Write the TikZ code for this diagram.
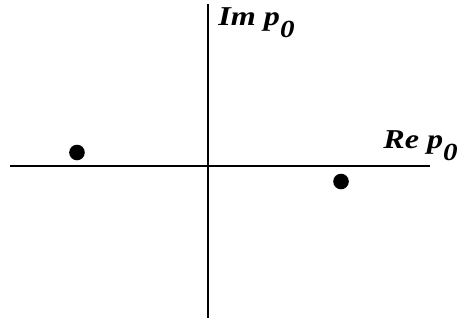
\documentclass[tikz,border=0pt]{standalone}
\usepackage{fontspec}
\setmainfont{Liberation Serif}
\usepackage{tikz}

\begin{document}
\begin{tikzpicture}[axis/.style={line width=1.1pt},
    lbl/.style={anchor=base west, inner sep=0pt, xscale=1.18, transform shape,
      font=\fontsize{15.5}{18}\selectfont\bfseries\itshape}]
    \useasboundingbox (-4.16,-3.08) rectangle (5.02,3.32);

    \coordinate (xl) at (-3.96,0);
    \coordinate (xr) at (4.44,0);
    \coordinate (yb) at (0,-3.04);
    \coordinate (yt) at (0,3.24);
    \draw[axis] (xl) -- (xr);
    \draw[axis] (yb) -- (yt);

    \node[lbl] (im) at (0.2,2.82) {Im p\raisebox{-0.45em}{\fontsize{14}{16}\selectfont 0}};
    \node[lbl] (re) at (3.5,0.36) {Re p\raisebox{-0.45em}{\fontsize{14}{16}\selectfont 0}};

    \fill (-2.62,0.27) circle (0.156);
    \fill (2.66,-0.31) circle (0.156);
\end{tikzpicture}
\end{document}
